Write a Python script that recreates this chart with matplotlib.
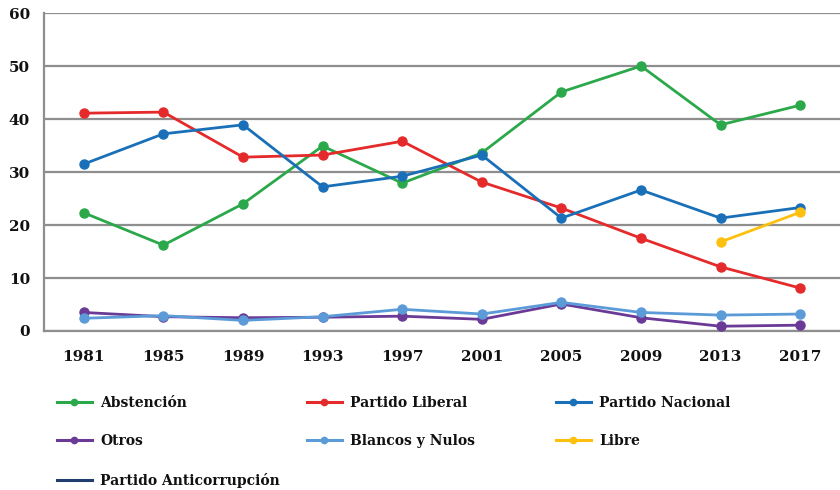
import matplotlib
matplotlib.use("Agg")
import matplotlib.pyplot as plt
from matplotlib.lines import Line2D
import numpy as np

years = ["1981", "1985", "1989", "1993", "1997", "2001", "2005", "2009", "2013", "2017"]
abstencion = [22.3, 16.2, 24.0, 34.9, 27.9, 33.6, 45.1, 50.0, 38.9, 42.6]
liberal = [41.1, 41.3, 32.8, 33.2, 35.8, 28.1, 23.2, 17.5, 12.1, 8.1]
nacional = [31.5, 37.2, 38.9, 27.2, 29.2, 33.2, 21.3, 26.6, 21.3, 23.3]
otros = [3.5, 2.7, 2.5, 2.6, 2.8, 2.2, 5.1, 2.5, 0.9, 1.1]
blancos = [2.4, 2.9, 2.0, 2.7, 4.1, 3.2, 5.4, 3.5, 3.0, 3.2]
libre = [None, None, None, None, None, None, None, None, 16.8, 22.4]
anticorrupcion = [None] * 10

series = [
    ("Abstención", abstencion, "#2AA84A", True),
    ("Partido Liberal", liberal, "#E42A2A", True),
    ("Partido Nacional", nacional, "#1A70B8", True),
    ("Otros", otros, "#6A3A96", True),
    ("Blancos y Nulos", blancos, "#5B9BD8", True),
    ("Libre", libre, "#FDC00F", True),
    ("Partido Anticorrupción", anticorrupcion, "#203D70", False),
]

font = "DejaVu Serif"
fig = plt.figure(figsize=(8.4, 4.9), dpi=100)
ax = fig.add_axes([44 / 840, 1 - 331 / 490, 1 - 44 / 840, (331 - 13) / 490])

x = np.arange(len(years))
draw_order = [3, 4, 0, 1, 2, 5, 6]
for i in draw_order:
    name, vals, color, mk = series[i]
    y = np.array([np.nan if v is None else v for v in vals], dtype=float)
    ax.plot(x, y, color=color, lw=2.0, marker="o" if mk else None,
            markersize=6.5, zorder=3)

ax.set_xlim(-0.5, len(years) - 0.5)
ax.set_ylim(0, 60)
ax.set_yticks(range(0, 61, 10))
ax.set_xticks(x)
ax.set_xticklabels(years)
ax.grid(axis="y", color="#8E8E8E", lw=1.6)
ax.set_axisbelow(True)
for s in ["top", "right"]:
    ax.spines[s].set_visible(False)
for s in ["left", "bottom"]:
    ax.spines[s].set_color("#8E8E8E")
    ax.spines[s].set_linewidth(1.6)
ax.tick_params(length=0)
ax.tick_params(axis="y", pad=10)
ax.tick_params(axis="x", pad=14)
for lab in ax.get_xticklabels() + ax.get_yticklabels():
    lab.set_fontfamily(font)
    lab.set_fontweight("bold")
    lab.set_fontsize(11)
    lab.set_color("#111111")

handles = []
for name, vals, color, mk in series:
    handles.append(Line2D([], [], color=color, lw=2.2, marker="o" if mk else None,
                          markersize=4.5, label=name))

cols = [[0, 3, 6], [1, 4], [2, 5]]
col_x = [57 / 840, 307 / 840, 556 / 840]
for cx, idxs in zip(col_x, cols):
    leg = fig.legend(handles=[handles[i] for i in idxs], loc="upper left",
                     bbox_to_anchor=(cx, 1 - 396 / 490), frameon=False,
                     handlelength=2.5, handletextpad=0.6, labelspacing=1.75,
                     borderaxespad=0, borderpad=0,
                     prop={"family": font, "weight": "bold", "size": 10})
    for t in leg.get_texts():
        t.set_color("#111111")

fig.savefig("out.png", dpi=100)
